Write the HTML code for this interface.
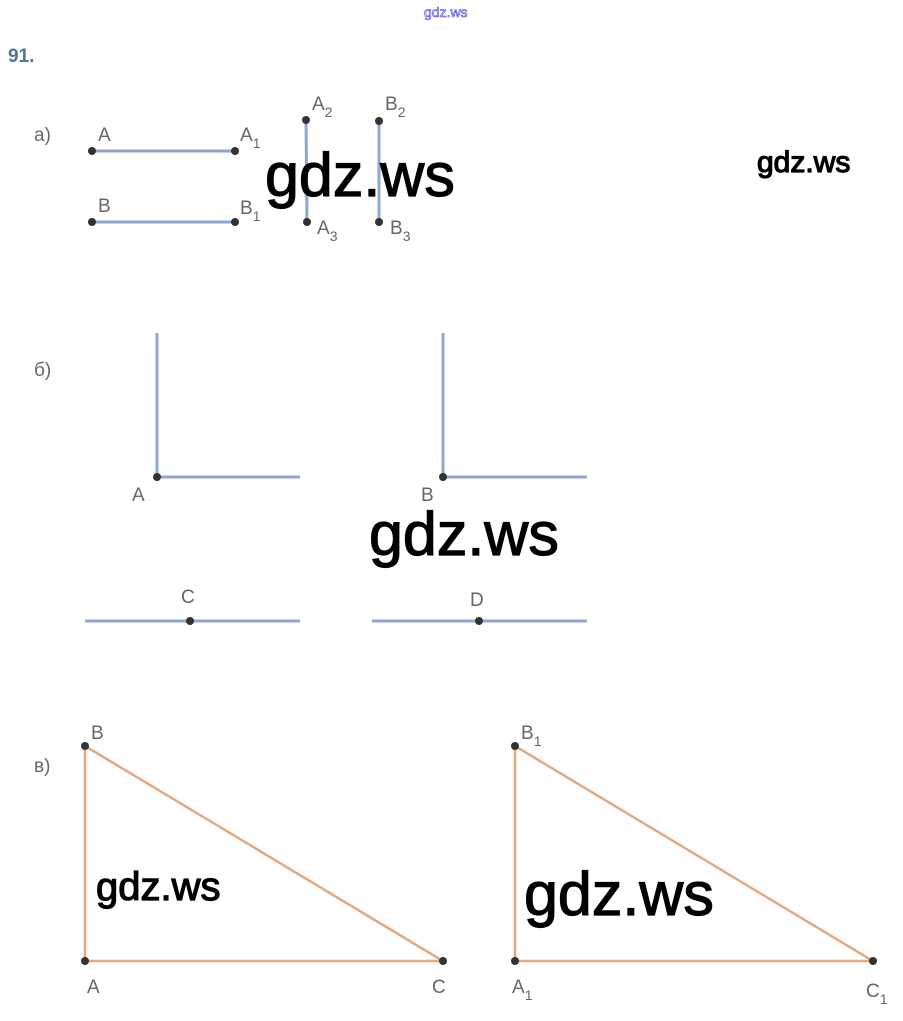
<!DOCTYPE html>
<html><head><meta charset="utf-8"><style>
html,body{margin:0;padding:0;background:#fff;}
svg{display:block;}
.l{font-family:"Liberation Sans",sans-serif;font-size:19px;fill:#666;}
.s{font-size:14px;}
.w{font-family:"Liberation Sans",sans-serif;fill:#000;stroke:#000;stroke-width:1.2;}
</style></head><body>
<svg width="903" height="1021" viewBox="0 0 903 1021" xmlns="http://www.w3.org/2000/svg">
<text x="424" y="17" font-family="Liberation Sans,sans-serif" font-size="14" fill="none" stroke="#3a3adf" stroke-width="0.6">gdz.ws</text>
<text x="8" y="62" font-family="Liberation Sans,sans-serif" font-size="19" font-weight="bold" fill="#4e7893">91.</text>
<g stroke="#8ea6d0" stroke-width="3">
<line x1="92" y1="151" x2="235" y2="151"/><line x1="92" y1="222" x2="235" y2="222"/>
<line x1="306" y1="120" x2="307" y2="222"/><line x1="379" y1="121" x2="379" y2="222"/>
<line x1="157" y1="333" x2="157" y2="477"/><line x1="157" y1="477" x2="300" y2="477"/>
<line x1="443" y1="333" x2="443" y2="477"/><line x1="443" y1="477" x2="587" y2="477"/>
<line x1="85" y1="621" x2="300" y2="621"/><line x1="372" y1="621" x2="587" y2="621"/>
</g>
<g stroke="#e3aa82" stroke-width="2.5" fill="none">
<polygon points="85,746 85,961 443,961"/><polygon points="515,746 515,961 873,961"/>
</g>
<g fill="#333">
<circle cx="92" cy="151" r="4"/><circle cx="235" cy="151" r="4"/><circle cx="92" cy="222" r="4"/><circle cx="235" cy="222" r="4"/>
<circle cx="306" cy="120" r="4"/><circle cx="307" cy="222" r="4"/><circle cx="379" cy="121" r="4"/><circle cx="379" cy="222" r="4"/>
<circle cx="157" cy="477" r="4"/><circle cx="443" cy="477" r="4"/><circle cx="190" cy="621" r="4"/><circle cx="479" cy="621" r="4"/>
<circle cx="85" cy="746" r="4"/><circle cx="85" cy="961" r="4"/><circle cx="443" cy="961" r="4"/>
<circle cx="515" cy="746" r="4"/><circle cx="515" cy="961" r="4"/><circle cx="873" cy="961" r="4"/>
</g>
<g class="l">
<text x="34" y="141">а)</text>
<text x="98" y="141">A</text><text x="240" y="141">A<tspan class="s" dy="7">1</tspan></text>
<text x="98" y="212">B</text><text x="240" y="214">B<tspan class="s" dy="7">1</tspan></text>
<text x="312" y="110">A<tspan class="s" dy="7">2</tspan></text><text x="385" y="110">B<tspan class="s" dy="7">2</tspan></text>
<text x="317" y="234">A<tspan class="s" dy="7">3</tspan></text><text x="390" y="234">B<tspan class="s" dy="7">3</tspan></text>
<text x="34" y="376">б)</text>
<text x="132" y="501">A</text><text x="421" y="501">B</text>
<text x="181" y="603">C</text><text x="470" y="606">D</text>
<text x="34" y="772">в)</text>
<text x="91" y="739">B</text><text x="87" y="993">A</text><text x="432" y="993">C</text>
<text x="521" y="739">B<tspan class="s" dy="7">1</tspan></text>
<text x="512" y="993">A<tspan class="s" dy="7">1</tspan></text>
<text x="866" y="997">C<tspan class="s" dy="7">1</tspan></text>
</g>
<text class="w" x="265" y="196" font-size="61">gdz.ws</text>
<text class="w" x="757" y="172" font-size="30">gdz.ws</text>
<text class="w" x="369" y="555" font-size="61">gdz.ws</text>
<text class="w" x="96" y="900" font-size="40">gdz.ws</text>
<text class="w" x="524" y="915" font-size="61">gdz.ws</text>
</svg>
</body></html>
